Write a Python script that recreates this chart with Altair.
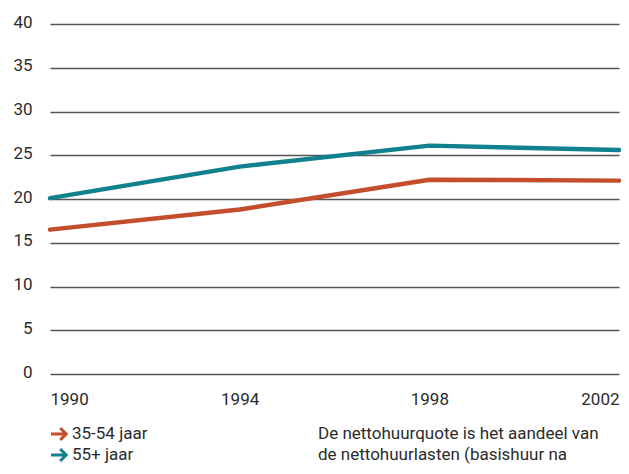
import altair as alt
import pandas as pd

years = [1990, 1994, 1998, 2002]
series = ["35-54 jaar", "55+ jaar"]
vals_3554 = [16.5, 18.8, 22.2, 22.1]
vals_55 = [20.1, 23.7, 26.1, 25.6]
colors = ["#c44d2c", "#12818f"]
y_ticks = [0, 5, 10, 15, 20, 25, 30, 35, 40]
note_lines = ["De nettohuurquote is het aandeel van", "de nettohuurlasten (basishuur na"]

rows = []
for s, vals in zip(series, [vals_3554, vals_55]):
    for yr, v in zip(years, vals):
        rows.append({"year": yr, "value": v, "series": s})
df = pd.DataFrame(rows)

leg = pd.DataFrame({"series": series, "idx": [0, 1]})
notes = pd.DataFrame({"text": note_lines, "idx": [0, 1]})

FONT = "Roboto"
TXT = "#2b2b2b"
FS = 17
ARROW = "M-1,0 L0.85,0 M0.15,-0.75 L0.9,0 L0.15,0.75"

color = alt.Color("series:N", scale=alt.Scale(domain=series, range=colors), legend=None)

lines = alt.Chart(df).mark_line(strokeWidth=4.5, strokeCap="round", strokeJoin="round").encode(
    x=alt.X("year:Q",
            scale=alt.Scale(domain=[1990, 2002], nice=False, zero=False),
            axis=alt.Axis(values=years, format="d", title=None, domain=False, ticks=False,
                          grid=False, labelFlush=True, labelPadding=17, labelFont=FONT,
                          labelFontSize=FS, labelColor=TXT)),
    y=alt.Y("value:Q",
            scale=alt.Scale(domain=[0, 40], nice=False),
            axis=alt.Axis(values=y_ticks, title=None, domain=False, ticks=False, grid=True,
                          gridColor="#555555", gridWidth=1.5, labelPadding=18, labelFont=FONT,
                          labelFontSize=FS, labelColor=TXT, labelBaseline="middle",
                          labelOffset=-2)),
    color=color,
    order=alt.Order("year:Q"),
)

yleg = alt.Y("idx:Q", scale=alt.Scale(domain=[0, 1], range=[410, 431]), axis=None)

arrows = alt.Chart(leg).mark_point(shape=ARROW, filled=False, size=256, strokeWidth=3,
                                   strokeJoin="miter", opacity=1).encode(
    x=alt.value(9), y=yleg, color=color)

leg_text = alt.Chart(leg).mark_text(align="left", baseline="middle", font=FONT,
                                    fontSize=FS, color=TXT).encode(
    x=alt.value(22), y=yleg, text="series:N")

note = alt.Chart(notes).mark_text(align="left", baseline="middle", font=FONT,
                                  fontSize=FS, color=TXT).encode(
    x=alt.value(268), y=yleg, text="text:N")

chart = alt.layer(lines, arrows, leg_text, note).resolve_scale(y="independent").properties(
    width=569, height=350,
    autosize=alt.AutoSizeParams(type="none"),
    padding={"left": 42, "top": 16, "right": 2, "bottom": 92},
    background="white",
).configure_view(stroke=None)

chart.save("out.html", embed_options={"renderer": "svg", "actions": False})
